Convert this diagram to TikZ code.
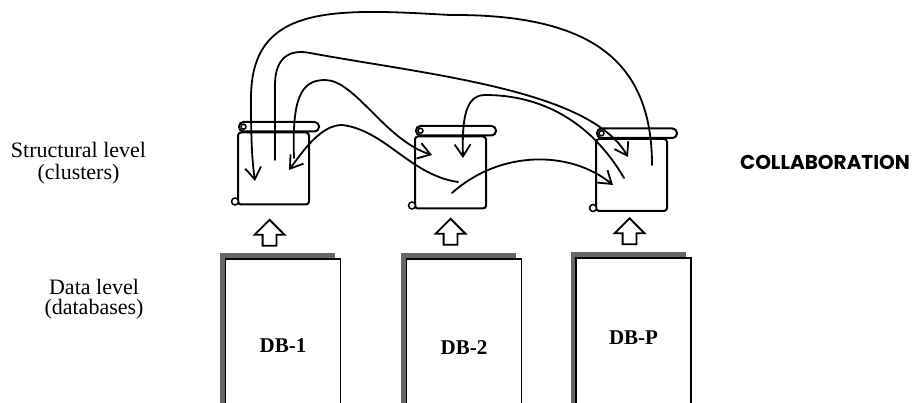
\documentclass[tikz,border=0pt]{standalone}
\usepackage{fontspec}
\setmainfont{Liberation Serif}
\newfontfamily\collfont{Poppins}
\usetikzlibrary{positioning,arrows.meta,shapes.arrows,shadows}

\begin{document}
\begin{tikzpicture}[x=1pt, y=-1pt, >={Straight Barb[length=12pt,width=16pt]},
    scrollbody/.style={draw, line width=2pt, minimum width=71pt, minimum height=72pt, rounded corners=3pt},
    uparrow/.style={single arrow, draw, line width=1.8pt, shape border rotate=90, minimum height=26pt,
        inner sep=6pt, single arrow head extend=8pt, single arrow head indent=0pt},
    dbbox/.style={draw, fill=white, line width=1.6pt, minimum width=115pt, anchor=north,
        drop shadow={shadow xshift=-5.5pt, shadow yshift=5.5pt, fill=black!60, opacity=1},
        font=\fontsize{21}{24}\selectfont\bfseries},
    link/.style={->, line width=1.8pt, line cap=round}]
    \useasboundingbox (0,0) rectangle (913,403);
    \clip (0,0) rectangle (913,403);

    % clusters
    \node[scrollbody] (S1) at (273.5,168.5) {};
    \node[scrollbody, right=104pt of S1, yshift=-4pt] (S2) {};
    \node[scrollbody, right=108pt of S2, yshift=-2.5pt] (S3) {};
    \foreach \s in {S1,S2,S3} {
        \draw[line width=2pt, rounded corners=4.5pt, fill=white] ([xshift=2pt]\s.north west) rectangle ([xshift=9pt,yshift=9.5pt]\s.north east);
        \draw[line width=1.5pt] ([xshift=6.5pt,yshift=4.75pt]\s.north west) circle (2.5pt);
        \draw[line width=1.5pt, fill=white] ([xshift=-2pt,yshift=4pt]\s.south west) circle (3.5pt);
    }

    % databases
    \node[uparrow, anchor=tip] (U1) at ([xshift=-4pt,yshift=-13pt]S1.south) {};
    \node[uparrow, anchor=tip] (U2) at ([yshift=-8pt]S2.south) {};
    \node[uparrow, anchor=tip] (U3) at ([xshift=-2pt,yshift=-5pt]S3.south) {};
    \node[dbbox, minimum height=174pt] (D1) at (283,258) {DB-1};
    \node[dbbox, minimum height=178pt] (D2) at (464,258) {DB-2};
    \node[dbbox, minimum height=160pt] (D3) at (633.5,257) {DB-P};

    % levels
    \node[align=center, font=\fontsize{22}{22}\selectfont] (LS) at (78.5,163) {Structural level\\(clusters)};
    \node[align=center, font=\fontsize{22}{20}\selectfont] (LD) at (94,299.5) {Data level\\(databases)};
    \node[font=\collfont\fontsize{20}{20}\selectfont\bfseries] (LC) at (825,162) {COLLABORATION};

    % collaboration links
    \coordinate (a1) at (255,181);
    \coordinate (b1) at (275,160);
    \coordinate (c1) at (294,158);
    \coordinate (d1) at (289,170);
    \coordinate (c2) at (432,155);
    \coordinate (d2) at (458,182);
    \coordinate (e2) at (463,158);
    \coordinate (f2) at (452,193);
    \coordinate (a3) at (652,165);
    \coordinate (b3) at (628,157);
    \coordinate (e3) at (624,178);
    \coordinate (f3) at (613,185);

    \draw[link] (a3) .. controls (652,60) and (590,14) .. (450,15) .. controls (330,8) and (250,5) .. (251,100) .. controls (251,140) and (252,160) .. (a1);
    \draw[link] (b1) -- (275,85) .. controls (275,57) and (290,49) .. (310,53) .. controls (430,75) and (590,90) .. (b3);
    \draw[link] (c1) .. controls (292,100) and (300,80) .. (325,80) .. controls (355,80) and (385,140) .. (c2);
    \draw[link] (d2) .. controls (410,175) and (385,130) .. (342,125) .. controls (322,125) and (305,148) .. (d1);
    \draw[link] (e3) .. controls (590,120) and (540,95) .. (485,95) .. controls (465,95) and (462,120) .. (e2);
    \draw[link] (f2) .. controls (500,150) and (570,150) .. (f3);
\end{tikzpicture}
\end{document}
